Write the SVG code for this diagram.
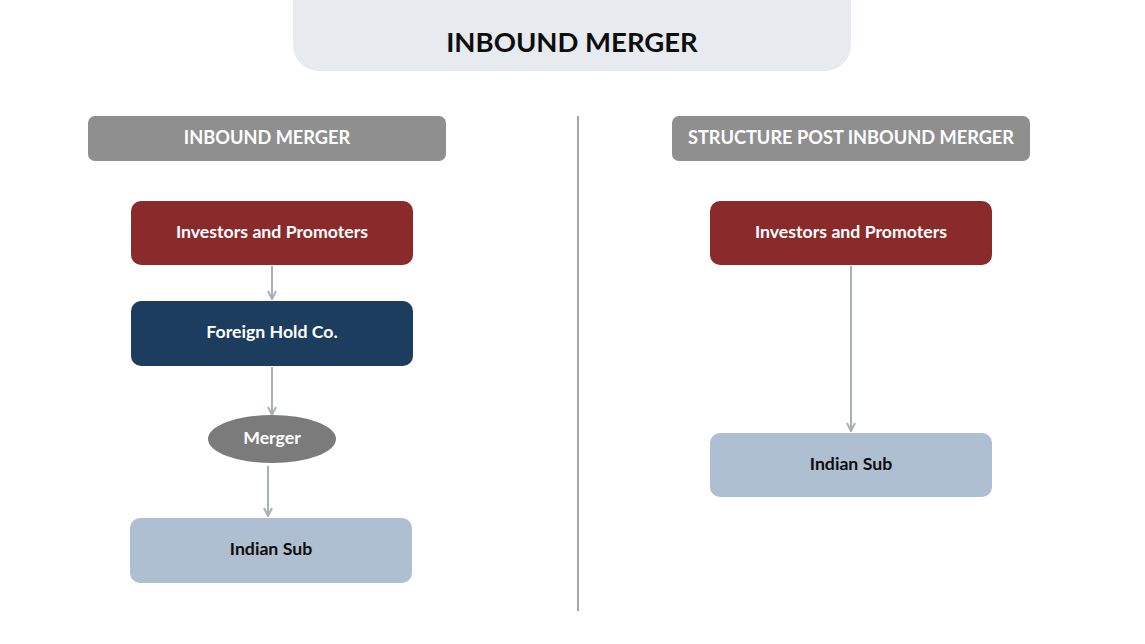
<svg xmlns="http://www.w3.org/2000/svg" width="1145" height="644" viewBox="0 0 1145 644">
<defs>
<style>
text{font-family:Lato,"Open Sans","Liberation Sans",sans-serif;font-weight:700;text-anchor:middle;dominant-baseline:central}
.w{fill:#ffffff}
.k{fill:#0d0d0d}
.hdr{fill:#8f8f8f}
.inv{fill:#8b2a2b}
.fhc{fill:#1c3d5e}
.sub{fill:#adbfd0}
.conn{stroke:#a9b0b6;stroke-width:2;fill:none;marker-end:url(#ah)}
</style>
<marker id="ah" viewBox="0 0 10 10" refX="9" refY="5" markerWidth="5" markerHeight="5" orient="auto" markerUnits="strokeWidth">
<path d="M1,1 L9,5 L1,9" fill="none" stroke="#a9b0b6" stroke-width="2"/>
</marker>
</defs>
<rect width="1145" height="644" fill="#ffffff"/>
<g id="title">
<rect x="293" y="-30" width="558" height="101" rx="26" fill="#e7eaef"/>
<text x="572" y="41" class="k" font-size="27.5">INBOUND MERGER</text>
</g>
<g id="divider">
<line x1="578" y1="116" x2="578" y2="611" stroke="#a6a6a6" stroke-width="2"/>
</g>
<g id="hdr-left">
<rect x="88" y="116" width="358" height="45" rx="7" class="hdr"/>
<text x="267" y="136.5" class="w" font-size="18.2">INBOUND MERGER</text>
</g>
<g id="hdr-right">
<rect x="672" y="116" width="358" height="45" rx="7" class="hdr"/>
<text x="851" y="136.5" class="w" font-size="18.2">STRUCTURE POST INBOUND MERGER</text>
</g>
<g id="connectors">
<line x1="272" y1="266" x2="272" y2="299" class="conn"/>
<line x1="272" y1="367" x2="272" y2="415" class="conn"/>
<line x1="268" y1="466" x2="268" y2="516" class="conn"/>
<line x1="851" y1="266" x2="851" y2="431" class="conn"/>
</g>
<g id="inv-left">
<rect x="131" y="201" width="282" height="64" rx="10" class="inv"/>
<text x="272" y="231" class="w" font-size="17.7">Investors and Promoters</text>
</g>
<g id="foreign-hold">
<rect x="131" y="301" width="282" height="65" rx="10" class="fhc"/>
<text x="272" y="331" class="w" font-size="17.7">Foreign Hold Co.</text>
</g>
<g id="merger">
<ellipse cx="272" cy="439" rx="64" ry="24" fill="#7b7b7b"/>
<text x="272" y="437" class="w" font-size="17.7">Merger</text>
</g>
<g id="sub-left">
<rect x="130" y="518" width="282" height="65" rx="10" class="sub"/>
<text x="271" y="548" class="k" font-size="17.7">Indian Sub</text>
</g>
<g id="inv-right">
<rect x="710" y="201" width="282" height="64" rx="10" class="inv"/>
<text x="851" y="231" class="w" font-size="17.7">Investors and Promoters</text>
</g>
<g id="sub-right">
<rect x="710" y="433" width="282" height="64" rx="10" class="sub"/>
<text x="851" y="463" class="k" font-size="17.7">Indian Sub</text>
</g>
</svg>
